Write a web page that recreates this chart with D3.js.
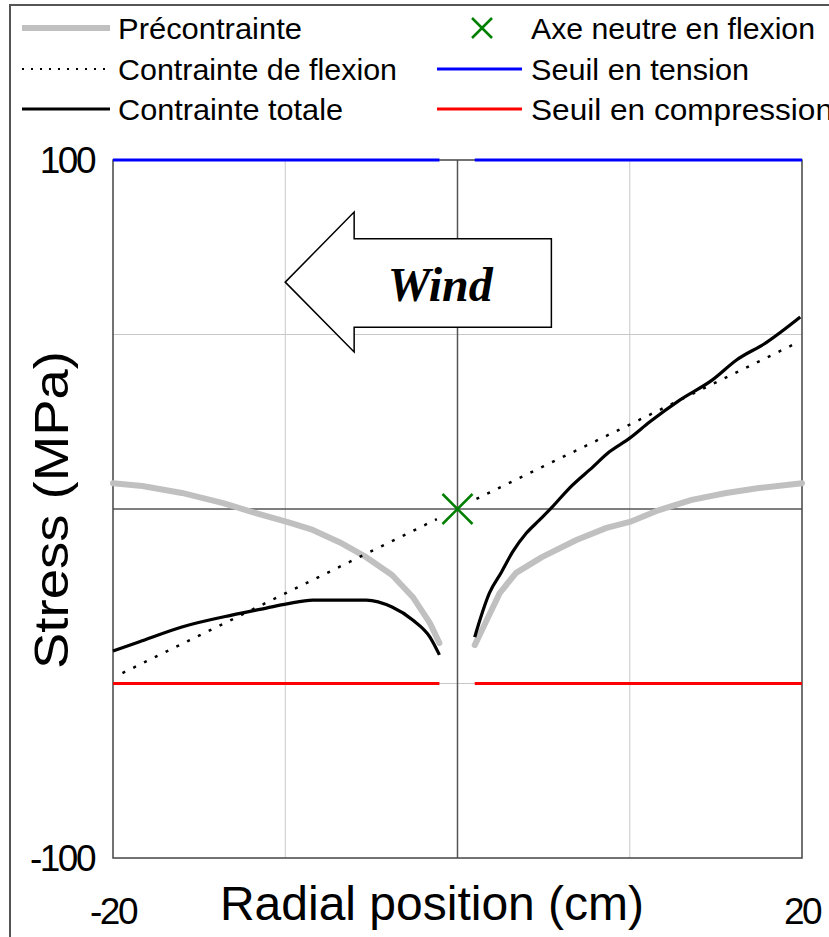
<!DOCTYPE html>
<html>
<head>
<meta charset="utf-8">
<script src="https://cdn.jsdelivr.net/npm/d3@7"></script>
<style>
  body { margin: 0; background: #fff; }
  svg { display: block; font-family: "Liberation Sans", Arial, sans-serif; }
</style>
</head>
<body>
<svg id="chart" width="829" height="937"></svg>
<script>
// values (x in cm, stress in MPa)
var preLeftX  = [-20, -18.3, -16, -13.6, -11.9, -9.9, -8.4, -6.85, -5.3, -3.8, -2.6, -1.6, -1.05];
var preLeftY  = [7.4, 6.6, 4.6, 1.7, -0.9, -3.7, -6.0, -9.5, -13.8, -18.9, -25.2, -32.7, -38.4];
var preRightX = [1.0, 1.7, 2.45, 3.4, 4.9, 6.9, 8.65, 10, 11.7, 13.6, 15.6, 17.5, 20];
var preRightY = [-39.0, -31.8, -24.1, -18.3, -13.8, -8.9, -5.4, -3.7, -0.3, 2.6, 4.6, 6.0, 7.4];

var totLeftX  = [-20, -18.5, -16, -13.1, -11.1, -9.9, -8.4, -5.3, -3.8, -2.6, -1.6, -1.05];
var totLeftY  = [-40.7, -38.1, -33.8, -30.4, -28.4, -27.2, -26.1, -26.1, -28.1, -31.8, -36.7, -41.8];
var totRightX = [1.0, 1.3, 1.85, 2.55, 3.2, 4.0, 4.75, 5.45, 6.5, 7.85, 8.8, 10, 11.15, 12.9, 14.8, 16.2, 17.9, 19.9];
var totRightY = [-36.7, -31.8, -24.1, -18.1, -12.3, -6.9, -3.2, 0.3, 6.0, 12.0, 16.3, 20.3, 24.9, 31.2, 37.0, 42.7, 47.6, 55.0];

var flexLeftX  = [-19.45, -10, -1.2];
var flexLeftY  = [-47.0, -24.2, -2.9];
var flexRightX = [1.1, 10, 19.45];
var flexRightY = [2.9, 24.2, 47.0];

var seuilTension = 100;
var seuilCompression = -50;
var seuilSegments = [[-20, -1.05], [1.0, 20]];
var neutralAxis = [0, 0];

var xTicks = [-20, 20];
var yTicks = [100, -100];
var xGrid = [-10, 10];
var yGrid = [50, -50];

// wind arrow outline, in data units
var arrowX = [-10, -6, -6, 5.45, 5.45, -6, -6];
var arrowY = [65, 85.1, 77.4, 77.4, 52.1, 52.1, 45];

var svg = d3.select("#chart");

var margin = {top: 160, left: 113, right: 27, bottom: 79};
var width = 829 - margin.left - margin.right,
    height = 937 - margin.top - margin.bottom;

var x = d3.scaleLinear().domain([-20, 20]).range([margin.left, margin.left + width]);
var y = d3.scaleLinear().domain([-100, 100]).range([margin.top + height, margin.top]);

function pts(xs, ys) { return xs.map(function(v, i) { return [v, ys[i]]; }); }

var line = d3.line()
    .x(function(d) { return x(d[0]); })
    .y(function(d) { return y(d[1]); });

// outer frame
svg.append("path")
    .attr("d", "M10,937V5H829")
    .attr("fill", "none")
    .attr("stroke", "#555")
    .attr("stroke-width", 2);

// gridlines
svg.append("g").selectAll("line").data(xGrid).enter().append("line")
    .attr("x1", function(d) { return x(d); }).attr("x2", function(d) { return x(d); })
    .attr("y1", y(100)).attr("y2", y(-100))
    .attr("stroke", "#c8c8c8").attr("stroke-width", 1);
svg.append("g").selectAll("line").data(yGrid).enter().append("line")
    .attr("y1", function(d) { return y(d); }).attr("y2", function(d) { return y(d); })
    .attr("x1", x(-20)).attr("x2", x(20))
    .attr("stroke", "#c8c8c8").attr("stroke-width", 1);

// zero lines
svg.append("line")
    .attr("x1", x(0)).attr("x2", x(0)).attr("y1", y(100)).attr("y2", y(-100))
    .attr("stroke", "#555").attr("stroke-width", 1.5);
svg.append("line")
    .attr("x1", x(-20)).attr("x2", x(20)).attr("y1", y(0)).attr("y2", y(0))
    .attr("stroke", "#555").attr("stroke-width", 1.5);

// plot border
svg.append("rect")
    .attr("x", x(-20)).attr("y", y(100))
    .attr("width", x(20) - x(-20)).attr("height", y(-100) - y(100))
    .attr("fill", "none").attr("stroke", "#444").attr("stroke-width", 1.5);

// wind arrow
svg.append("path")
    .attr("d", line(pts(arrowX, arrowY)) + "Z")
    .attr("fill", "#fff").attr("stroke", "#000").attr("stroke-width", 1.5);
svg.append("text")
    .attr("x", x(-1.0)).attr("y", y(59.5))
    .attr("text-anchor", "middle")
    .style("font-family", "'Liberation Serif', 'Times New Roman', serif")
    .style("font-weight", "bold").style("font-style", "italic")
    .style("font-size", "48px")
    .text("Wind");

// précontrainte
[pts(preLeftX, preLeftY), pts(preRightX, preRightY)].forEach(function(d) {
    svg.append("path").attr("d", line(d))
        .attr("fill", "none").attr("stroke", "#c0c0c0").attr("stroke-width", 6)
        .attr("stroke-linecap", "round").attr("stroke-linejoin", "round");
});

// contrainte de flexion
[pts(flexLeftX, flexLeftY), pts(flexRightX, flexRightY)].forEach(function(d) {
    svg.append("path").attr("d", line(d))
        .attr("fill", "none").attr("stroke", "#000").attr("stroke-width", 2.5)
        .attr("stroke-dasharray", "3,9");
});

// contrainte totale
[pts(totLeftX, totLeftY), pts(totRightX, totRightY)].forEach(function(d) {
    svg.append("path").attr("d", line.curve(d3.curveMonotoneX)(d))
        .attr("fill", "none").attr("stroke", "#000").attr("stroke-width", 3.2)
        .attr("stroke-linejoin", "round");
});
line.curve(d3.curveLinear);

// seuils
seuilSegments.forEach(function(s) {
    svg.append("line")
        .attr("x1", x(s[0])).attr("x2", x(s[1]))
        .attr("y1", y(seuilTension)).attr("y2", y(seuilTension))
        .attr("stroke", "#0000ff").attr("stroke-width", 3);
    svg.append("line")
        .attr("x1", x(s[0])).attr("x2", x(s[1]))
        .attr("y1", y(seuilCompression)).attr("y2", y(seuilCompression))
        .attr("stroke", "#ff0000").attr("stroke-width", 3);
});

// neutral axis marker
function cross(g, cx, cy, r) {
    g.append("path")
        .attr("d", "M" + (cx - r) + "," + (cy - r) + "L" + (cx + r) + "," + (cy + r) +
                   "M" + (cx - r) + "," + (cy + r) + "L" + (cx + r) + "," + (cy - r))
        .attr("stroke", "#008000").attr("stroke-width", 2.5).attr("fill", "none");
}
cross(svg, x(neutralAxis[0]), y(neutralAxis[1]), 15);

// tick labels
svg.append("g").selectAll("text").data(yTicks).enter().append("text")
    .attr("x", 94).attr("y", function(d) { return y(d) + 13; })
    .attr("text-anchor", "end")
    .style("font-size", "37px").style("letter-spacing", "-2.5px")
    .text(function(d) { return d; });
svg.append("g").selectAll("text").data(xTicks).enter().append("text")
    .attr("x", function(d) { return x(d); }).attr("y", 924)
    .attr("text-anchor", "middle")
    .style("font-size", "37px").style("letter-spacing", "-2.5px")
    .text(function(d) { return d; });

// axis titles
svg.append("text")
    .attr("x", 432).attr("y", 920)
    .attr("text-anchor", "middle")
    .style("font-size", "48px")
    .text("Radial position (cm)");
svg.append("text")
    .attr("transform", "translate(68,510) rotate(-90)")
    .attr("text-anchor", "middle")
    .attr("textLength", 318).attr("lengthAdjust", "spacingAndGlyphs")
    .style("font-size", "48px")
    .text("Stress (MPa)");

// legend
var legend = svg.append("g").style("font-size", "30px");
var rows = [28, 69, 109];

function legendLine(x1, x2, yy, color, w, dash) {
    legend.append("line")
        .attr("x1", x1).attr("x2", x2).attr("y1", yy).attr("y2", yy)
        .attr("stroke", color).attr("stroke-width", w)
        .attr("stroke-dasharray", dash || null);
}
function legendText(tx, yy, label, len) {
    var t = legend.append("text").attr("x", tx).attr("y", yy + 11).text(label);
    if (len) t.attr("textLength", len).attr("lengthAdjust", "spacingAndGlyphs");
}

legendLine(22, 110, rows[0], "#c0c0c0", 6);
legendText(118, rows[0], "Précontrainte", 184);
legendLine(22, 110, rows[1], "#000", 2, "2,7");
legendText(118, rows[1], "Contrainte de flexion", 279);
legendLine(22, 110, rows[2], "#000", 3);
legendText(118, rows[2], "Contrainte totale", 225);

cross(legend, 482, rows[0], 10);
legendText(531, rows[0], "Axe neutre en flexion", 284);
legendLine(437, 522, rows[1], "#0000ff", 3);
legendText(531, rows[1], "Seuil en tension", 218);
legendLine(437, 522, rows[2], "#ff0000", 3);
legendText(531, rows[2], "Seuil en compression", 302);
</script>
</body>
</html>
